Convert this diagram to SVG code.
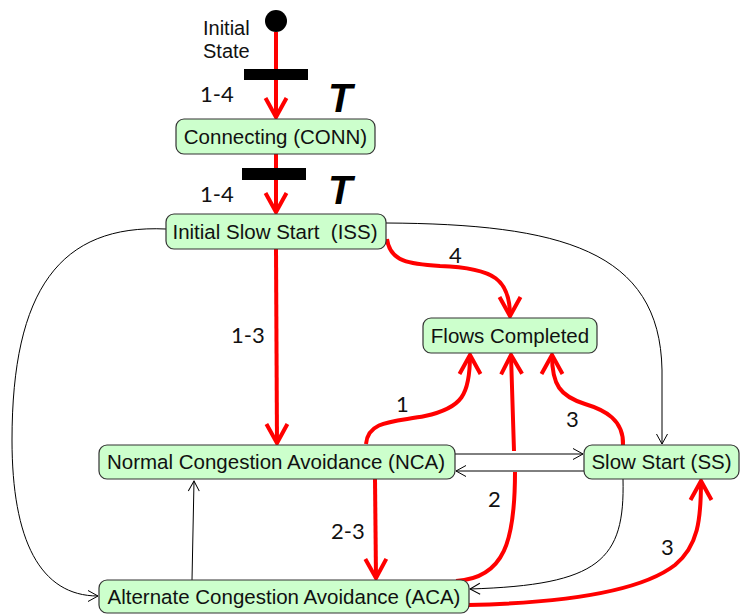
<svg xmlns="http://www.w3.org/2000/svg" width="740" height="614" viewBox="0 0 740 614">
<defs>
<marker id="ra" markerUnits="userSpaceOnUse" viewBox="-24 -14 28 28" refX="0" refY="0" markerWidth="28" markerHeight="28" orient="auto" overflow="visible">
<path d="M-19,-10.5 L0,0 L-19,10.5" fill="none" stroke="#ff0000" stroke-width="4"/>
</marker>
<marker id="ba" markerUnits="userSpaceOnUse" viewBox="-14 -8 16 16" refX="0" refY="0" markerWidth="16" markerHeight="16" orient="auto" overflow="visible">
<path d="M-10,-5.5 L0,0 L-10,5.5" fill="none" stroke="#000" stroke-width="1"/>
</marker>
</defs>
<style>
.box{fill:#ccffcc;stroke:#333;stroke-width:1.2}
.lbl{font-family:"Liberation Sans",Arial,sans-serif;font-size:20.5px;fill:#111;text-anchor:middle}
.num{font-family:Lato,"Open Sans",sans-serif;font-size:22px;fill:#111}
.red{fill:none;stroke:#ff0000;stroke-width:4}
.blk{fill:none;stroke:#000;stroke-width:1}
.tt{font-family:"Liberation Sans",Arial,sans-serif;font-size:40px;font-weight:bold;font-style:italic;fill:#000}
</style>
<rect width="740" height="614" fill="#fff"/>
<g id="connectors">
<path class="blk" d="M386,223 C560,224 660,250 662,370 L662,444" marker-end="url(#ba)"/>
<path class="blk" d="M166,229 C60,224 12,290 12,440 C12,540 40,596 98,596" marker-end="url(#ba)"/>
<path class="blk" d="M623,479 C625,560 600,585 470,589" marker-end="url(#ba)"/>
<path class="blk" d="M455,454 L583,454" marker-end="url(#ba)"/>
<path class="blk" d="M584,471 L456,471" marker-end="url(#ba)"/>
<path class="blk" d="M192,580 L194,481" marker-end="url(#ba)"/>
<path class="red" d="M276,32 L276,117" marker-end="url(#ra)"/>
<path class="red" d="M276,154 L276,212" marker-end="url(#ra)"/>
<path class="red" d="M276,249 L277,443" marker-end="url(#ra)"/>
<path class="red" d="M375,479 L376,578" marker-end="url(#ra)"/>
<path class="red" d="M387,239 C390,262 410,264 440,266 C495,268 510,280 510,316" marker-end="url(#ra)"/>
<path class="red" d="M366,444 C368,420 395,422 425,416 C462,408 470,395 470,355" marker-end="url(#ra)"/>
<path class="red" d="M623,445 C624,420 605,410 585,404 C560,396 552,385 552,355" marker-end="url(#ra)"/>
<path class="red" d="M456,581 C505,578 515,540 515,472"/>
<path class="red" d="M514,451 L511,355" marker-end="url(#ra)"/>
<path class="red" d="M468,605 C560,603 640,592 675,565 C698,546 701,520 701,481" marker-end="url(#ra)"/>
<rect x="244" y="69" width="64" height="11" fill="#000"/>
<rect x="242" y="168" width="64" height="12" fill="#000"/>
<text class="num" x="200" y="102">1-4</text>
<text class="num" x="200" y="202">1-4</text>
<text class="tt" x="328" y="112">T</text>
<text class="tt" x="328" y="204">T</text>
<text class="num" x="231" y="343">1-3</text>
<text class="num" x="449" y="263">4</text>
<text class="num" x="396" y="412">1</text>
<text class="num" x="566" y="427">3</text>
<text class="num" x="488" y="507">2</text>
<text class="num" x="331" y="539">2-3</text>
<text class="num" x="661" y="555">3</text>
</g>
<g id="initial">
<circle cx="276" cy="21" r="11" fill="#000"/>
<text x="203" y="35" font-family="Liberation Sans, Arial, sans-serif" font-size="20" fill="#111">Initial</text>
<text x="203" y="58" font-family="Liberation Sans, Arial, sans-serif" font-size="20" fill="#111">State</text>
</g>
<g id="conn">
<rect class="box" x="176" y="119" width="199" height="35" rx="8"/>
<text class="lbl" x="275.5" y="143.5">Connecting (CONN)</text>
</g>
<g id="iss">
<rect class="box" x="166" y="214" width="220" height="35" rx="8"/>
<text class="lbl" x="275" y="238.5" xml:space="preserve">Initial Slow Start  (ISS)</text>
</g>
<g id="flows">
<rect class="box" x="423" y="318" width="174" height="35" rx="8"/>
<text class="lbl" x="510" y="342.5">Flows Completed</text>
</g>
<g id="nca">
<rect class="box" x="99" y="445" width="356" height="34" rx="8"/>
<text class="lbl" x="276" y="469">Normal Congestion Avoidance (NCA)</text>
</g>
<g id="ss">
<rect class="box" x="584" y="445" width="155" height="34" rx="8"/>
<text class="lbl" x="661.5" y="469">Slow Start (SS)</text>
</g>
<g id="aca">
<rect class="box" x="99" y="580" width="370" height="33" rx="8"/>
<text class="lbl" x="284" y="603.5">Alternate Congestion Avoidance (ACA)</text>
</g>
</svg>
